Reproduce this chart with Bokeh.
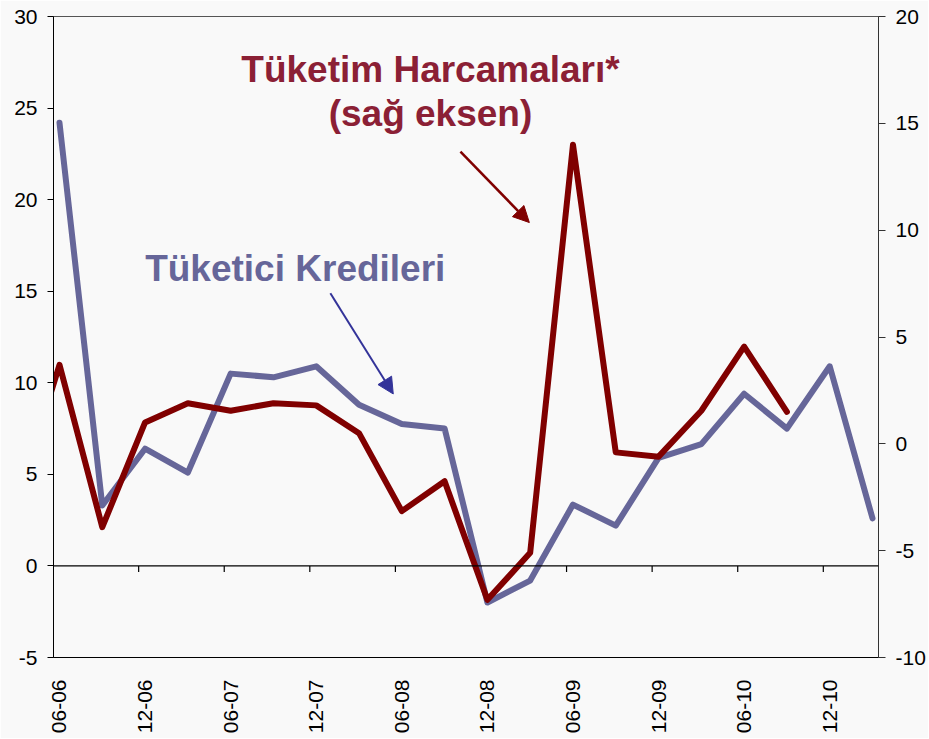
import numpy as np
from bokeh.plotting import figure
from bokeh.models import (Range1d, LinearAxis, FixedTicker, Span, Label, Arrow,
                          NormalHead, ColumnDataSource, PrintfTickFormatter)
from bokeh.embed import file_html
from bokeh.resources import INLINE

# ---- data ----
quarters = ["03-06", "06-06", "09-06", "12-06", "03-07", "06-07", "09-07", "12-07",
            "03-08", "06-08", "09-08", "12-08", "03-09", "06-09", "09-09", "12-09",
            "03-10", "06-10", "09-10", "12-10", "03-11"]
tuketici_kredileri = [np.nan, 24.2, 3.3, 6.4, 5.1, 10.5, 10.3, 10.9, 8.8, 7.75, 7.5,
                      -2.0, -0.8, 3.35, 2.2, 5.9, 6.65, 9.4, 7.5, 10.9, 2.6]
tuketim_harcamalari = [-2.8, 3.7, -3.9, 1.0, 1.9, 1.55, 1.9, 1.8, 0.5, -3.15, -1.75,
                       -7.3, -5.1, 14.0, -0.4, -0.6, 1.55, 4.55, 1.5, np.nan, np.nan]
tick_labels = ["06-06", "12-06", "06-07", "12-07", "06-08", "12-08", "06-09",
               "12-09", "06-10", "12-10"]
left_ticks = [-5, 0, 5, 10, 15, 20, 25, 30]
right_ticks = [-10, -5, 0, 5, 10, 15, 20]

x = list(range(len(quarters)))
label_idx = [quarters.index(t) for t in tick_labels]

BG = "#f9f9f9"
FONT = "Liberation Sans"
BLUE = "#666699"
RED = "#800000"
RED_TXT = "#8b2035"

p = figure(width=928, height=738, output_backend="svg", toolbar_location=None,
           x_range=Range1d(0.86, 20.14), y_range=Range1d(-5, 30),
           min_border_left=53, min_border_right=50, min_border_top=16,
           min_border_bottom=81)
p.background_fill_color = BG
p.border_fill_color = BG
p.grid.visible = False
p.outline_line_color = "#555555"
p.outline_line_width = 1

p.extra_y_ranges = {"right": Range1d(-10, 20)}

src = ColumnDataSource(dict(x=x, blue=tuketici_kredileri, red=tuketim_harcamalari))

# zero line with tick marks
p.add_layout(Span(location=0, dimension="width", line_color="black", line_width=1.2))
tx = [i - 0.15 for i in label_idx]
p.segment(x0=tx, y0=[0] * len(tx), x1=tx, y1=[-0.33] * len(tx),
          line_color="black", line_width=1.2)

p.line("x", "blue", source=src, line_color=BLUE, line_width=6,
       line_join="round", line_cap="round")
p.line("x", "red", source=src, line_color=RED, line_width=6,
       line_join="round", line_cap="round", y_range_name="right")

# axes
xa = p.xaxis[0]
xa.ticker = FixedTicker(ticks=label_idx)
xa.major_label_overrides = {i: t for i, t in zip(label_idx, tick_labels)}
xa.major_label_orientation = np.pi / 2
xa.major_tick_line_color = None
xa.minor_tick_line_color = None
xa.major_label_standoff = 16
xa.major_label_text_font = FONT
xa.major_label_text_font_size = "21px"
xa.major_label_text_color = "black"
xa.axis_line_color = "black"

ya = p.yaxis[0]
ya.ticker = FixedTicker(ticks=left_ticks)
ya.formatter = PrintfTickFormatter(format="%d")
ya.major_tick_out = 6
ya.major_tick_in = 0
ya.minor_tick_line_color = None
ya.major_label_standoff = 10
ya.major_label_text_font = FONT
ya.major_label_text_font_size = "21px"
ya.major_label_text_color = "black"
ya.axis_line_color = "black"
ya.major_tick_line_color = "black"

ra = LinearAxis(y_range_name="right", ticker=FixedTicker(ticks=right_ticks),
                formatter=PrintfTickFormatter(format="%d"))
ra.major_tick_out = 7
ra.major_tick_in = 0
ra.minor_tick_line_color = None
ra.major_label_standoff = 10
ra.major_label_text_font = FONT
ra.major_label_text_font_size = "21px"
ra.major_label_text_color = "black"
ra.axis_line_color = "#333333"
ra.major_tick_line_color = "#333333"
p.add_layout(ra, "right")

# annotations
p.add_layout(Label(x=9.67, y=27.08, text="Tüketim Harcamaları*", text_align="center",
                   text_baseline="alphabetic", text_font=FONT, text_font_style="bold",
                   text_font_size="37px", text_color=RED_TXT))
p.add_layout(Label(x=9.67, y=24.68, text="(sağ eksen)", text_align="center",
                   text_baseline="alphabetic", text_font=FONT, text_font_style="bold",
                   text_font_size="37px", text_color=RED_TXT))
p.add_layout(Label(x=6.51, y=16.25, text="Tüketici Kredileri", text_align="center",
                   text_baseline="alphabetic", text_font=FONT, text_font_style="bold",
                   text_font_size="37px", text_color=BLUE))

p.add_layout(Arrow(x_start=10.37, y_start=22.62, x_end=11.98, y_end=18.75,
                   line_color=RED, line_width=2.5,
                   end=NormalHead(size=16, fill_color=RED, line_color=RED)))
p.add_layout(Arrow(x_start=7.33, y_start=14.89, x_end=8.80, y_end=9.39,
                   line_color="#333399", line_width=2,
                   end=NormalHead(size=16, fill_color="#333399", line_color="#333399")))

html = file_html(p, INLINE)
html = html.replace("<body>", '<body style="background:%s">' % BG, 1)
open("out.html", "w").write(html)
